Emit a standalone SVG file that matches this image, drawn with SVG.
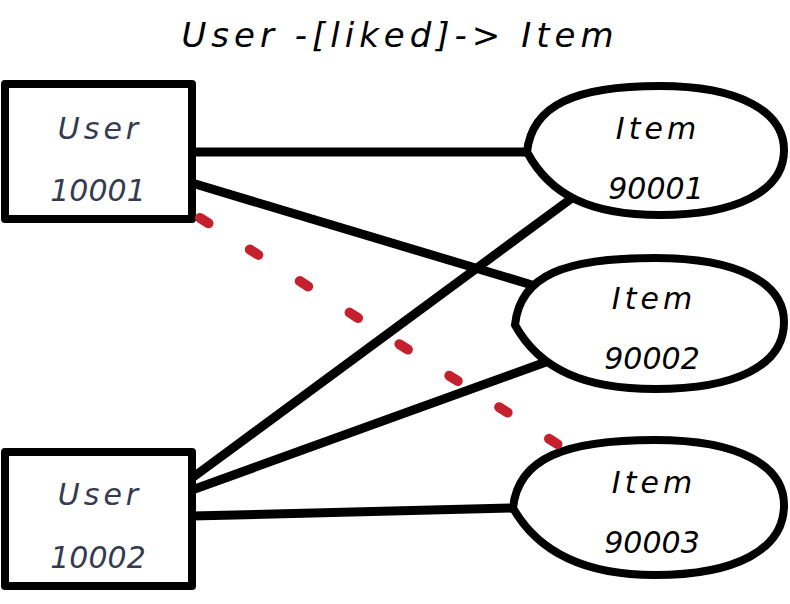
<svg xmlns="http://www.w3.org/2000/svg" width="790" height="604" viewBox="0 0 790 604">
<style>
.box{fill:#fff;stroke:#000;stroke-width:8;stroke-linejoin:round}
.edge{stroke:#000;stroke-width:9;fill:none;stroke-linecap:butt}
.dash{stroke:#c4202e;stroke-width:10;fill:none;stroke-linecap:round;stroke-dasharray:10 49}
.t{font-family:"DejaVu Sans",sans-serif;font-style:italic;text-anchor:middle}
.ut{fill:#343b50;font-size:30px}
.it{fill:#000;font-size:30px}
.w{letter-spacing:4px}
</style>
<rect width="790" height="604" fill="#fff"/>
<text class="t" x="400" y="47" font-size="34" fill="#000" letter-spacing="5">User -[liked]-&gt; Item</text>
<g id="connectors">
<line class="edge" x1="192" y1="152" x2="528" y2="152"/>
<line class="edge" x1="192" y1="183" x2="532" y2="285"/>
<line class="edge" x1="192" y1="478" x2="572" y2="198"/>
<line class="edge" x1="192" y1="490" x2="546" y2="362"/>
<line class="edge" x1="192" y1="516" x2="514" y2="508"/>
</g>
<g id="user10001">
<rect class="box" x="5" y="84" width="187" height="135"/>
<text class="t ut w" x="100" y="139">User</text>
<text class="t ut" x="98" y="201">10001</text>
</g>
<g id="user10002">
<rect class="box" x="5" y="452" width="187" height="134"/>
<text class="t ut w" x="100" y="505">User</text>
<text class="t ut" x="98" y="568">10002</text>
</g>
<g id="item90001">
<path class="box" d="M527,152 C532,105 575,86 660,86 C740,86 784,112 784,150 C784,192 735,215 660,215 C590,215 550,195 527,152 Z"/>
<text class="t it w" x="658" y="139">Item</text>
<text class="t it" x="656" y="199">90001</text>
</g>
<g id="item90002">
<path class="box" d="M515,325 C520,275 565,258 655,258 C740,258 784,284 784,322 C784,366 735,389 655,389 C585,389 540,370 515,325 Z"/>
<text class="t it w" x="654" y="309">Item</text>
<text class="t it" x="652" y="369">90002</text>
</g>
<g id="item90003">
<path class="box" d="M513,508 C518,458 565,440 655,440 C740,440 784,466 784,505 C784,550 735,575 655,575 C585,575 538,552 513,508 Z"/>
<text class="t it w" x="654" y="493">Item</text>
<text class="t it" x="652" y="553">90003</text>
</g>
<g id="dashed-connector">
<line class="dash" x1="200" y1="218" x2="562" y2="447"/>
</g>
</svg>
